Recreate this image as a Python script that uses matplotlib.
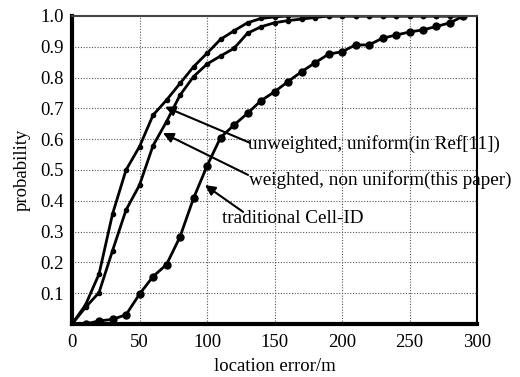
import matplotlib
matplotlib.use("Agg")
import matplotlib.pyplot as plt

plt.rcParams['font.family'] = ['Liberation Serif', 'DejaVu Serif']

# location error (m)
err = list(range(0, 300, 10))

# traditional Cell-ID
cellid = [0, 0, 0.01, 0.015, 0.03, 0.097, 0.154, 0.193, 0.283, 0.408,
          0.513, 0.605, 0.646, 0.684, 0.725, 0.754, 0.787, 0.819, 0.848, 0.876,
          0.884, 0.906, 0.906, 0.928, 0.938, 0.948, 0.955, 0.966, 0.978, 1.0]
# unweighted, uniform (Ref[11])
unweighted = [0, 0.062, 0.162, 0.357, 0.50, 0.576, 0.678, 0.727, 0.781, 0.835,
              0.879, 0.924, 0.952, 0.978, 0.992, 0.997, 1.0, 1.0, 1.0, 1.0,
              1.0, 1.0, 1.0, 1.0, 1.0, 1.0, 1.0, 1.0, 1.0, 1.0]
# weighted, non uniform (this paper)
weighted = [0, 0.054, 0.102, 0.238, 0.37, 0.451, 0.579, 0.657, 0.743, 0.803,
            0.844, 0.870, 0.895, 0.944, 0.965, 0.978, 0.985, 0.99, 0.995, 1.0,
            1.0, 1.0, 1.0, 1.0, 1.0, 1.0, 1.0, 1.0, 1.0, 1.0]

yticks = [0.1, 0.2, 0.3, 0.4, 0.5, 0.6, 0.7, 0.8, 0.9, 1.0]
xticks = [0, 50, 100, 150, 200, 250, 300]

fig = plt.figure(figsize=(5.2, 3.77), dpi=100)
ax = fig.add_axes([0.1385, 0.1406, 0.7788, 0.817])

# 网格
for yv in yticks[:-1]:
    ax.axhline(yv, color='#555555', ls=(0, (1, 1.5)), lw=0.8, zorder=0)
for xv in xticks[1:-1]:
    ax.axvline(xv, color='#555555', ls=(0, (1, 1.5)), lw=0.8, zorder=0)

ax.plot(err, unweighted, color='black', lw=2, marker='o', ms=3)
ax.plot(err, weighted, color='black', lw=2, marker='o', ms=3)
ax.plot(err, cellid, color='black', lw=2, marker='o', ms=5)

ax.set_xlim(0, 300)
ax.set_ylim(0, 1.0)
ax.set_xticks(xticks)
ax.set_yticks(yticks)
ax.set_yticklabels(['%.1f' % v for v in yticks])
ax.tick_params(axis='both', length=0, labelsize=13.5)
ax.tick_params(axis='y', pad=6)
ax.tick_params(axis='x', pad=7)

ax.spines['left'].set_linewidth(3)
ax.spines['bottom'].set_linewidth(3)
ax.spines['top'].set_linewidth(1.5)
ax.spines['top'].set_color('#444444')
ax.spines['right'].set_linewidth(1.5)

ax.set_xlabel('location error/m', fontsize=13.5, labelpad=5)
ax.set_ylabel('probability', fontsize=13.5, labelpad=7)

arrow = dict(arrowstyle='-|>', color='black', lw=1.5, mutation_scale=15,
             shrinkA=0, shrinkB=0)
ax.annotate('', xy=(68.9, 0.705), xytext=(131.9, 0.588), arrowprops=arrow)
ax.annotate('', xy=(67.4, 0.62), xytext=(130.4, 0.484), arrowprops=arrow)
ax.annotate('', xy=(98.5, 0.451), xytext=(126.7, 0.364), arrowprops=arrow)

ax.text(130.5, 0.585, 'unweighted, uniform(in Ref[11])', fontsize=13.8, va='center')
ax.text(131.0, 0.468, 'weighted, non uniform(this paper)', fontsize=13.8, va='center')
ax.text(111.1, 0.344, 'traditional Cell-ID', fontsize=13.8, va='center')

plt.savefig('out.png', dpi=100)
